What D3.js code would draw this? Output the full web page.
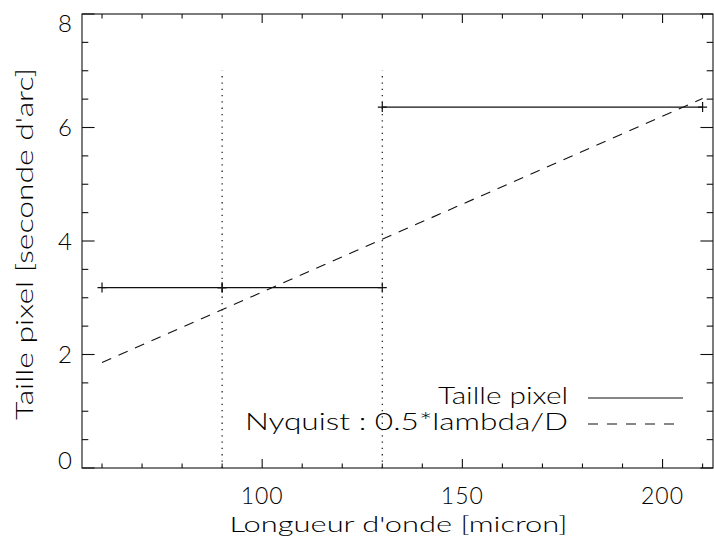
<!DOCTYPE html>
<html>
<head>
<meta charset="utf-8">
<script src="https://cdn.jsdelivr.net/npm/d3@7"></script>
<style>
  html, body { margin: 0; padding: 0; background: #fff; }
  svg { display: block; }
  text { font-family: Lato, "DejaVu Sans", sans-serif; font-weight: 300; fill: #000; }
</style>
</head>
<body>
<svg id="chart" width="714" height="545"></svg>
<script>
// ---- data ----
const pixelSegA_lambda = [60, 90];
const pixelSegA_size = [3.18, 3.18];
const pixelSegB_lambda = [90, 130];
const pixelSegB_size = [3.18, 3.18];
const pixelSegC_lambda = [130, 210];
const pixelSegC_size = [6.36, 6.36];
const nyquistLambda = [60, 210];
const nyquistValue = [1.86, 6.51];
const bandEdges = [90, 130];
const bandEdgeTop = 7;
const xTickLabels = [100, 150, 200];
const yTickLabels = [0, 2, 4, 6, 8];
const xTitle = "Longueur d'onde [micron]";
const yTitle = "Taille pixel [seconde d'arc]";
const legendLabels = ["Taille pixel", "Nyquist : 0.5*lambda/D"];

// ---- layout ----
const svg = d3.select("#chart");
const L = 82, R = 713, T = 14, B = 468;
const x = d3.scaleLinear().domain([55, 212.6]).range([L, R]);
const y = d3.scaleLinear().domain([0, 8]).range([B, T]);

const ink = "#111";
const g = svg.append("g");

// frame
g.append("rect").attr("x", L).attr("y", T).attr("width", R - L).attr("height", B - T)
  .attr("fill", "none").attr("stroke", ink).attr("stroke-width", 1.1);

// ticks
const xMajor = 9, yMajor = 12.6;
const xMinorVals = d3.range(60, 212, 10);
xMinorVals.forEach(v => {
  const major = v % 50 === 0;
  const len = major ? xMajor : xMajor / 2;
  g.append("line").attr("x1", x(v)).attr("x2", x(v)).attr("y1", B).attr("y2", B - len)
    .attr("stroke", ink).attr("stroke-width", 1.1);
  g.append("line").attr("x1", x(v)).attr("x2", x(v)).attr("y1", T).attr("y2", T + len)
    .attr("stroke", ink).attr("stroke-width", 1.1);
});
const yMinorVals = d3.range(0, 8.01, 0.5);
yMinorVals.forEach(v => {
  const major = Math.abs(v % 2) < 1e-9;
  const len = major ? yMajor : yMajor / 2;
  g.append("line").attr("x1", L).attr("x2", L + len).attr("y1", y(v)).attr("y2", y(v))
    .attr("stroke", ink).attr("stroke-width", 1.1);
  g.append("line").attr("x1", R).attr("x2", R - len).attr("y1", y(v)).attr("y2", y(v))
    .attr("stroke", ink).attr("stroke-width", 1.1);
});

// tick labels
g.selectAll(".xl").data(xTickLabels).enter().append("text")
  .attr("x", d => x(d)).attr("y", 504).attr("text-anchor", "middle")
  .attr("font-size", 23).attr("letter-spacing", 1).text(d => d);
g.selectAll(".yl").data(yTickLabels).enter().append("text")
  .attr("x", 72).attr("text-anchor", "end").attr("font-size", 24)
  .attr("y", (d, i) => {
    if (i === 0) return y(d) + 1;
    if (i === yTickLabels.length - 1) return y(d) + 18;
    return y(d) + 8.5;
  })
  .text(d => d);

// titles
g.append("text").attr("x", (L + R) / 2 + 1).attr("y", 532).attr("text-anchor", "middle")
  .attr("font-size", 22).attr("textLength", 338).attr("lengthAdjust", "spacingAndGlyphs")
  .text(xTitle);
g.append("text").attr("transform", "translate(33," + 244 + ") rotate(-90)")
  .attr("text-anchor", "middle").attr("font-size", 23)
  .attr("textLength", 352).attr("lengthAdjust", "spacingAndGlyphs")
  .text(yTitle);

// dotted band edges
bandEdges.forEach(v => {
  g.append("line").attr("x1", x(v)).attr("x2", x(v)).attr("y1", y(0)).attr("y2", y(bandEdgeTop))
    .attr("stroke", ink).attr("stroke-width", 1.2).attr("stroke-dasharray", "1.3,5");
});

// pixel size lines with + markers
const line = d3.line().x(d => x(d[0])).y(d => y(d[1]));
[[pixelSegA_lambda, pixelSegA_size], [pixelSegB_lambda, pixelSegB_size], [pixelSegC_lambda, pixelSegC_size]]
  .forEach(([lx, ly]) => {
    const pts = lx.map((v, i) => [v, ly[i]]);
    g.append("path").attr("d", line(pts)).attr("fill", "none").attr("stroke", ink).attr("stroke-width", 1.2);
    pts.forEach(p => {
      const cx = x(p[0]), cy = y(p[1]);
      g.append("path").attr("d", `M${cx - 4.5},${cy}H${cx + 4.5}M${cx},${cy - 5}V${cy + 5}`)
        .attr("stroke", ink).attr("stroke-width", 1.2);
    });
  });

// nyquist dashed
g.append("path").attr("d", line(nyquistLambda.map((v, i) => [v, nyquistValue[i]])))
  .attr("fill", "none").attr("stroke", ink).attr("stroke-width", 1.1).attr("stroke-dasharray", "10,8");

// legend
g.append("text").attr("x", 568).attr("y", 404).attr("text-anchor", "end").attr("font-size", 24)
  .attr("textLength", 130).attr("lengthAdjust", "spacingAndGlyphs").text(legendLabels[0]);
g.append("line").attr("x1", 588).attr("x2", 683).attr("y1", 398).attr("y2", 398)
  .attr("stroke", ink).attr("stroke-width", 1.2);
g.append("text").attr("x", 568).attr("y", 430).attr("text-anchor", "end").attr("font-size", 24)
  .attr("textLength", 323).attr("lengthAdjust", "spacingAndGlyphs").text(legendLabels[1]);
g.append("line").attr("x1", 588).attr("x2", 676).attr("y1", 424).attr("y2", 424)
  .attr("stroke", ink).attr("stroke-width", 1.1).attr("stroke-dasharray", "10,9");
</script>
</body>
</html>
